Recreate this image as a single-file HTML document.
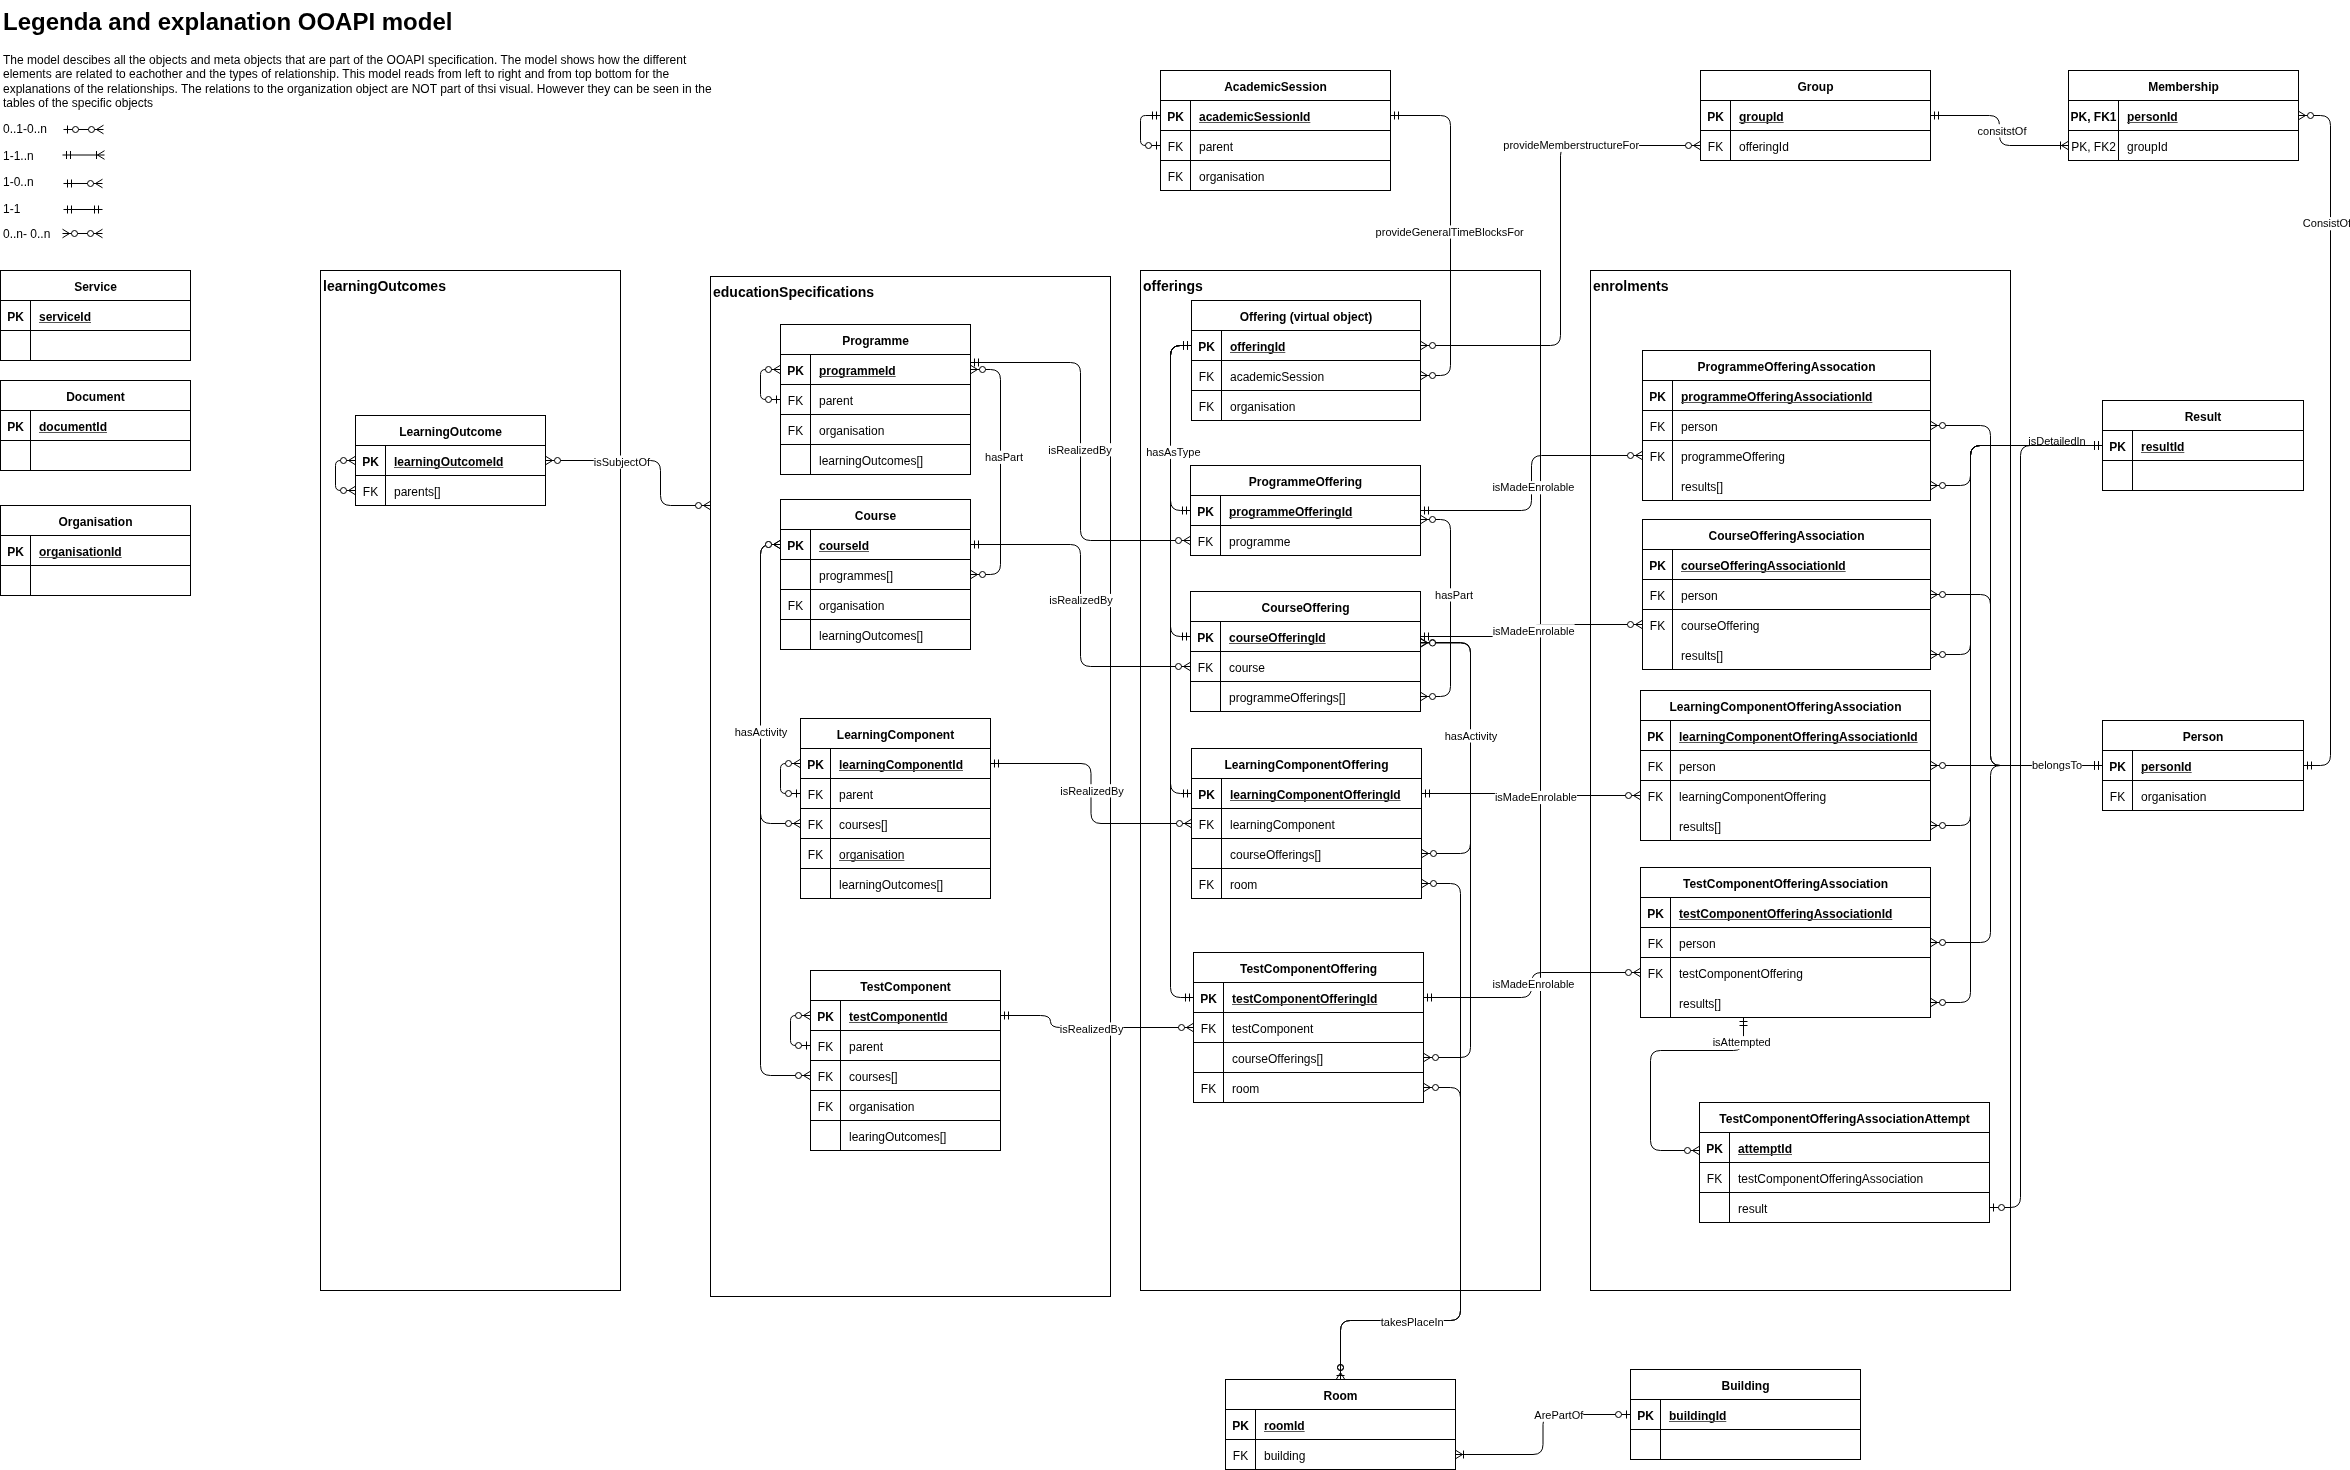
<!DOCTYPE html>
<html><head><meta charset="utf-8"><title>OOAPI model</title><style>html,body{margin:0;padding:0;background:#fff;width:2350px;height:1470px;overflow:hidden}svg{display:block;will-change:transform}text{font-family:"Liberation Sans",sans-serif}</style></head><body>
<svg width="2350" height="1470" viewBox="0 0 2350 1470" font-family="'Liberation Sans', sans-serif" fill="#000">
<rect width="2350" height="1470" fill="#fff"/>
<text x="3" y="30" font-size="24" font-weight="bold">Legenda and explanation OOAPI model</text>
<text x="3" y="64" font-size="12">The model descibes all the objects and meta objects that are part of the OOAPI specification. The model shows how the different</text>
<text x="3" y="78.4" font-size="12">elements are related to eachother and the types of relationship. This model reads from left to right and from top bottom for the</text>
<text x="3" y="92.8" font-size="12">explanations of the relationships. The relations to the organization object are NOT part of thsi visual. However they can be seen in the</text>
<text x="3" y="107.2" font-size="12">tables of the specific objects</text>
<text x="3" y="133" font-size="12">0..1-0..n</text>
<path d="M63.5 129.5 L103.5 129.5" fill="none" stroke="#000"/>
<path d="M67.50 133.50L67.50 125.50" stroke="#000" fill="none"/><circle cx="75.50" cy="129.50" r="3" fill="#fff" stroke="#000"/>
<path d="M103.50 125.20L96.50 129.50 M103.50 133.80L96.50 129.50" stroke="#000" fill="none"/><circle cx="91.50" cy="129.50" r="3" fill="#fff" stroke="#000"/>
<text x="3" y="160" font-size="12">1-1..n</text>
<path d="M62.5 155 L104.5 155" fill="none" stroke="#000"/>
<path d="M66.50 159.00L66.50 151.00 M70.50 159.00L70.50 151.00" stroke="#000" fill="none"/>
<path d="M104.50 150.70L97.50 155.00 M104.50 159.30L97.50 155.00 M96.50 151.00L96.50 159.00" stroke="#000" fill="none"/>
<text x="3" y="186" font-size="12">1-0..n</text>
<path d="M63.5 183.5 L102.5 183.5" fill="none" stroke="#000"/>
<path d="M67.50 187.50L67.50 179.50 M71.50 187.50L71.50 179.50" stroke="#000" fill="none"/>
<path d="M102.50 179.20L95.50 183.50 M102.50 187.80L95.50 183.50" stroke="#000" fill="none"/><circle cx="90.50" cy="183.50" r="3" fill="#fff" stroke="#000"/>
<text x="3" y="213" font-size="12">1-1</text>
<path d="M63.5 209.5 L102.5 209.5" fill="none" stroke="#000"/>
<path d="M67.50 213.50L67.50 205.50 M71.50 213.50L71.50 205.50" stroke="#000" fill="none"/>
<path d="M98.50 205.50L98.50 213.50 M94.50 205.50L94.50 213.50" stroke="#000" fill="none"/>
<text x="3" y="238" font-size="12">0..n- 0..n</text>
<path d="M62.5 233.5 L102.5 233.5" fill="none" stroke="#000"/>
<path d="M62.50 237.80L69.50 233.50 M62.50 229.20L69.50 233.50" stroke="#000" fill="none"/><circle cx="74.50" cy="233.50" r="3" fill="#fff" stroke="#000"/>
<path d="M102.50 229.20L95.50 233.50 M102.50 237.80L95.50 233.50" stroke="#000" fill="none"/><circle cx="90.50" cy="233.50" r="3" fill="#fff" stroke="#000"/>
<rect x="320.5" y="270.5" width="300" height="1020" fill="none" stroke="#000"/>
<text x="323" y="291" font-size="14" font-weight="bold">learningOutcomes</text>
<rect x="710.5" y="276.5" width="400" height="1020" fill="none" stroke="#000"/>
<text x="713" y="297" font-size="14" font-weight="bold">educationSpecifications</text>
<rect x="1140.5" y="270.5" width="400" height="1020" fill="none" stroke="#000"/>
<text x="1143" y="291" font-size="14" font-weight="bold">offerings</text>
<rect x="1590.5" y="270.5" width="420" height="1020" fill="none" stroke="#000"/>
<text x="1593" y="291" font-size="14" font-weight="bold">enrolments</text>
<rect x="0.5" y="270.5" width="190" height="90" fill="#fff" stroke="#000"/>
<path d="M0 300.5H190" stroke="#000"/>
<path d="M0 330.5H190" stroke="#000"/>
<path d="M30.5 300V360" stroke="#000"/>
<text x="95.5" y="291" font-size="12" font-weight="bold" text-anchor="middle">Service</text>
<text x="15.5" y="321" font-size="12" font-weight="bold" text-anchor="middle">PK</text>
<text x="39" y="321" font-size="12" font-weight="bold">serviceId</text>
<rect x="39" y="322" width="52.0156" height="1" fill="#555"/>
<rect x="0.5" y="380.5" width="190" height="90" fill="#fff" stroke="#000"/>
<path d="M0 410.5H190" stroke="#000"/>
<path d="M0 440.5H190" stroke="#000"/>
<path d="M30.5 410V470" stroke="#000"/>
<text x="95.5" y="401" font-size="12" font-weight="bold" text-anchor="middle">Document</text>
<text x="15.5" y="431" font-size="12" font-weight="bold" text-anchor="middle">PK</text>
<text x="39" y="431" font-size="12" font-weight="bold">documentId</text>
<rect x="39" y="432" width="67.9844" height="1" fill="#555"/>
<rect x="0.5" y="505.5" width="190" height="90" fill="#fff" stroke="#000"/>
<path d="M0 535.5H190" stroke="#000"/>
<path d="M0 565.5H190" stroke="#000"/>
<path d="M30.5 535V595" stroke="#000"/>
<text x="95.5" y="526" font-size="12" font-weight="bold" text-anchor="middle">Organisation</text>
<text x="15.5" y="556" font-size="12" font-weight="bold" text-anchor="middle">PK</text>
<text x="39" y="556" font-size="12" font-weight="bold">organisationId</text>
<rect x="39" y="557" width="82.6406" height="1" fill="#555"/>
<rect x="355.5" y="415.5" width="190" height="90" fill="#fff" stroke="#000"/>
<path d="M355 445.5H545" stroke="#000"/>
<path d="M355 475.5H545" stroke="#000"/>
<path d="M385.5 445V505" stroke="#000"/>
<text x="450.5" y="436" font-size="12" font-weight="bold" text-anchor="middle">LearningOutcome</text>
<text x="370.5" y="466" font-size="12" font-weight="bold" text-anchor="middle">PK</text>
<text x="394" y="466" font-size="12" font-weight="bold">learningOutcomeId</text>
<rect x="394" y="467" width="109.312" height="1" fill="#555"/>
<text x="370.5" y="496" font-size="12" text-anchor="middle">FK</text>
<text x="394" y="496" font-size="12">parents[]</text>
<rect x="780.5" y="324.5" width="190" height="150" fill="#fff" stroke="#000"/>
<path d="M780 354.5H970" stroke="#000"/>
<path d="M780 384.5H970" stroke="#000"/>
<path d="M780 414.5H970" stroke="#000"/>
<path d="M780 444.5H970" stroke="#000"/>
<path d="M810.5 354V474" stroke="#000"/>
<text x="875.5" y="345" font-size="12" font-weight="bold" text-anchor="middle">Programme</text>
<text x="795.5" y="375" font-size="12" font-weight="bold" text-anchor="middle">PK</text>
<text x="819" y="375" font-size="12" font-weight="bold">programmeId</text>
<rect x="819" y="376" width="76.6719" height="1" fill="#555"/>
<text x="795.5" y="405" font-size="12" text-anchor="middle">FK</text>
<text x="819" y="405" font-size="12">parent</text>
<text x="795.5" y="435" font-size="12" text-anchor="middle">FK</text>
<text x="819" y="435" font-size="12">organisation</text>
<text x="819" y="465" font-size="12">learningOutcomes[]</text>
<rect x="780.5" y="499.5" width="190" height="150" fill="#fff" stroke="#000"/>
<path d="M780 529.5H970" stroke="#000"/>
<path d="M780 559.5H970" stroke="#000"/>
<path d="M780 589.5H970" stroke="#000"/>
<path d="M780 619.5H970" stroke="#000"/>
<path d="M810.5 529V649" stroke="#000"/>
<text x="875.5" y="520" font-size="12" font-weight="bold" text-anchor="middle">Course</text>
<text x="795.5" y="550" font-size="12" font-weight="bold" text-anchor="middle">PK</text>
<text x="819" y="550" font-size="12" font-weight="bold">courseId</text>
<rect x="819" y="551" width="50" height="1" fill="#555"/>
<text x="819" y="580" font-size="12">programmes[]</text>
<text x="795.5" y="610" font-size="12" text-anchor="middle">FK</text>
<text x="819" y="610" font-size="12">organisation</text>
<text x="819" y="640" font-size="12">learningOutcomes[]</text>
<rect x="800.5" y="718.5" width="190" height="180" fill="#fff" stroke="#000"/>
<path d="M800 748.5H990" stroke="#000"/>
<path d="M800 778.5H990" stroke="#000"/>
<path d="M800 808.5H990" stroke="#000"/>
<path d="M800 838.5H990" stroke="#000"/>
<path d="M800 868.5H990" stroke="#000"/>
<path d="M830.5 748V898" stroke="#000"/>
<text x="895.5" y="739" font-size="12" font-weight="bold" text-anchor="middle">LearningComponent</text>
<text x="815.5" y="769" font-size="12" font-weight="bold" text-anchor="middle">PK</text>
<text x="839" y="769" font-size="12" font-weight="bold">learningComponentId</text>
<rect x="839" y="770" width="123.969" height="1" fill="#555"/>
<text x="815.5" y="799" font-size="12" text-anchor="middle">FK</text>
<text x="839" y="799" font-size="12">parent</text>
<text x="815.5" y="829" font-size="12" text-anchor="middle">FK</text>
<text x="839" y="829" font-size="12">courses[]</text>
<text x="815.5" y="859" font-size="12" text-anchor="middle">FK</text>
<text x="839" y="859" font-size="12">organisation</text>
<rect x="839" y="860" width="65.375" height="1" fill="#555"/>
<text x="839" y="889" font-size="12">learningOutcomes[]</text>
<rect x="810.5" y="970.5" width="190" height="180" fill="#fff" stroke="#000"/>
<path d="M810 1000.5H1000" stroke="#000"/>
<path d="M810 1030.5H1000" stroke="#000"/>
<path d="M810 1060.5H1000" stroke="#000"/>
<path d="M810 1090.5H1000" stroke="#000"/>
<path d="M810 1120.5H1000" stroke="#000"/>
<path d="M840.5 1000V1150" stroke="#000"/>
<text x="905.5" y="991" font-size="12" font-weight="bold" text-anchor="middle">TestComponent</text>
<text x="825.5" y="1021" font-size="12" font-weight="bold" text-anchor="middle">PK</text>
<text x="849" y="1021" font-size="12" font-weight="bold">testComponentId</text>
<rect x="849" y="1022" width="98.6562" height="1" fill="#555"/>
<text x="825.5" y="1051" font-size="12" text-anchor="middle">FK</text>
<text x="849" y="1051" font-size="12">parent</text>
<text x="825.5" y="1081" font-size="12" text-anchor="middle">FK</text>
<text x="849" y="1081" font-size="12">courses[]</text>
<text x="825.5" y="1111" font-size="12" text-anchor="middle">FK</text>
<text x="849" y="1111" font-size="12">organisation</text>
<text x="849" y="1141" font-size="12">learingOutcomes[]</text>
<rect x="1191.5" y="300.5" width="229" height="120" fill="#fff" stroke="#000"/>
<path d="M1191 330.5H1420" stroke="#000"/>
<path d="M1191 360.5H1420" stroke="#000"/>
<path d="M1191 390.5H1420" stroke="#000"/>
<path d="M1221.5 330V420" stroke="#000"/>
<text x="1306" y="321" font-size="12" font-weight="bold" text-anchor="middle">Offering (virtual object)</text>
<text x="1206.5" y="351" font-size="12" font-weight="bold" text-anchor="middle">PK</text>
<text x="1230" y="351" font-size="12" font-weight="bold">offeringId</text>
<rect x="1230" y="352" width="55.3125" height="1" fill="#555"/>
<text x="1206.5" y="381" font-size="12" text-anchor="middle">FK</text>
<text x="1230" y="381" font-size="12">academicSession</text>
<text x="1206.5" y="411" font-size="12" text-anchor="middle">FK</text>
<text x="1230" y="411" font-size="12">organisation</text>
<rect x="1190.5" y="465.5" width="230" height="90" fill="#fff" stroke="#000"/>
<path d="M1190 495.5H1420" stroke="#000"/>
<path d="M1190 525.5H1420" stroke="#000"/>
<path d="M1220.5 495V555" stroke="#000"/>
<text x="1305.5" y="486" font-size="12" font-weight="bold" text-anchor="middle">ProgrammeOffering</text>
<text x="1205.5" y="516" font-size="12" font-weight="bold" text-anchor="middle">PK</text>
<text x="1229" y="516" font-size="12" font-weight="bold">programmeOfferingId</text>
<rect x="1229" y="517" width="123.328" height="1" fill="#555"/>
<text x="1205.5" y="546" font-size="12" text-anchor="middle">FK</text>
<text x="1229" y="546" font-size="12">programme</text>
<rect x="1190.5" y="591.5" width="230" height="120" fill="#fff" stroke="#000"/>
<path d="M1190 621.5H1420" stroke="#000"/>
<path d="M1190 651.5H1420" stroke="#000"/>
<path d="M1190 681.5H1420" stroke="#000"/>
<path d="M1220.5 621V711" stroke="#000"/>
<text x="1305.5" y="612" font-size="12" font-weight="bold" text-anchor="middle">CourseOffering</text>
<text x="1205.5" y="642" font-size="12" font-weight="bold" text-anchor="middle">PK</text>
<text x="1229" y="642" font-size="12" font-weight="bold">courseOfferingId</text>
<rect x="1229" y="643" width="96.6562" height="1" fill="#555"/>
<text x="1205.5" y="672" font-size="12" text-anchor="middle">FK</text>
<text x="1229" y="672" font-size="12">course</text>
<text x="1229" y="702" font-size="12">programmeOfferings[]</text>
<rect x="1191.5" y="748.5" width="230" height="150" fill="#fff" stroke="#000"/>
<path d="M1191 778.5H1421" stroke="#000"/>
<path d="M1191 808.5H1421" stroke="#000"/>
<path d="M1191 838.5H1421" stroke="#000"/>
<path d="M1191 868.5H1421" stroke="#000"/>
<path d="M1221.5 778V898" stroke="#000"/>
<text x="1306.5" y="769" font-size="12" font-weight="bold" text-anchor="middle">LearningComponentOffering</text>
<text x="1206.5" y="799" font-size="12" font-weight="bold" text-anchor="middle">PK</text>
<text x="1230" y="799" font-size="12" font-weight="bold">learningComponentOfferingId</text>
<rect x="1230" y="800" width="170.625" height="1" fill="#555"/>
<text x="1206.5" y="829" font-size="12" text-anchor="middle">FK</text>
<text x="1230" y="829" font-size="12">learningComponent</text>
<text x="1230" y="859" font-size="12">courseOfferings[]</text>
<text x="1206.5" y="889" font-size="12" text-anchor="middle">FK</text>
<text x="1230" y="889" font-size="12">room</text>
<rect x="1193.5" y="952.5" width="230" height="150" fill="#fff" stroke="#000"/>
<path d="M1193 982.5H1423" stroke="#000"/>
<path d="M1193 1012.5H1423" stroke="#000"/>
<path d="M1193 1042.5H1423" stroke="#000"/>
<path d="M1193 1072.5H1423" stroke="#000"/>
<path d="M1223.5 982V1102" stroke="#000"/>
<text x="1308.5" y="973" font-size="12" font-weight="bold" text-anchor="middle">TestComponentOffering</text>
<text x="1208.5" y="1003" font-size="12" font-weight="bold" text-anchor="middle">PK</text>
<text x="1232" y="1003" font-size="12" font-weight="bold">testComponentOfferingId</text>
<rect x="1232" y="1004" width="145.312" height="1" fill="#555"/>
<text x="1208.5" y="1033" font-size="12" text-anchor="middle">FK</text>
<text x="1232" y="1033" font-size="12">testComponent</text>
<text x="1232" y="1063" font-size="12">courseOfferings[]</text>
<text x="1208.5" y="1093" font-size="12" text-anchor="middle">FK</text>
<text x="1232" y="1093" font-size="12">room</text>
<rect x="1642.5" y="350.5" width="288" height="150" fill="#fff" stroke="#000"/>
<path d="M1642 380.5H1930" stroke="#000"/>
<path d="M1642 410.5H1930" stroke="#000"/>
<path d="M1642 440.5H1930" stroke="#000"/>
<path d="M1672.5 380V500" stroke="#000"/>
<text x="1786.5" y="371" font-size="12" font-weight="bold" text-anchor="middle">ProgrammeOfferingAssocation</text>
<text x="1657.5" y="401" font-size="12" font-weight="bold" text-anchor="middle">PK</text>
<text x="1681" y="401" font-size="12" font-weight="bold">programmeOfferingAssociationId</text>
<rect x="1681" y="402" width="191.328" height="1" fill="#555"/>
<text x="1657.5" y="431" font-size="12" text-anchor="middle">FK</text>
<text x="1681" y="431" font-size="12">person</text>
<text x="1657.5" y="461" font-size="12" text-anchor="middle">FK</text>
<text x="1681" y="461" font-size="12">programmeOffering</text>
<text x="1681" y="491" font-size="12">results[]</text>
<rect x="1642.5" y="519.5" width="288" height="150" fill="#fff" stroke="#000"/>
<path d="M1642 549.5H1930" stroke="#000"/>
<path d="M1642 579.5H1930" stroke="#000"/>
<path d="M1642 609.5H1930" stroke="#000"/>
<path d="M1672.5 549V669" stroke="#000"/>
<text x="1786.5" y="540" font-size="12" font-weight="bold" text-anchor="middle">CourseOfferingAssociation</text>
<text x="1657.5" y="570" font-size="12" font-weight="bold" text-anchor="middle">PK</text>
<text x="1681" y="570" font-size="12" font-weight="bold">courseOfferingAssociationId</text>
<rect x="1681" y="571" width="164.656" height="1" fill="#555"/>
<text x="1657.5" y="600" font-size="12" text-anchor="middle">FK</text>
<text x="1681" y="600" font-size="12">person</text>
<text x="1657.5" y="630" font-size="12" text-anchor="middle">FK</text>
<text x="1681" y="630" font-size="12">courseOffering</text>
<text x="1681" y="660" font-size="12">results[]</text>
<rect x="1640.5" y="690.5" width="290" height="150" fill="#fff" stroke="#000"/>
<path d="M1640 720.5H1930" stroke="#000"/>
<path d="M1640 750.5H1930" stroke="#000"/>
<path d="M1640 780.5H1930" stroke="#000"/>
<path d="M1670.5 720V840" stroke="#000"/>
<text x="1785.5" y="711" font-size="12" font-weight="bold" text-anchor="middle">LearningComponentOfferingAssociation</text>
<text x="1655.5" y="741" font-size="12" font-weight="bold" text-anchor="middle">PK</text>
<text x="1679" y="741" font-size="12" font-weight="bold">learningComponentOfferingAssociationId</text>
<rect x="1679" y="742" width="238.625" height="1" fill="#555"/>
<text x="1655.5" y="771" font-size="12" text-anchor="middle">FK</text>
<text x="1679" y="771" font-size="12">person</text>
<text x="1655.5" y="801" font-size="12" text-anchor="middle">FK</text>
<text x="1679" y="801" font-size="12">learningComponentOffering</text>
<text x="1679" y="831" font-size="12">results[]</text>
<rect x="1640.5" y="867.5" width="290" height="150" fill="#fff" stroke="#000"/>
<path d="M1640 897.5H1930" stroke="#000"/>
<path d="M1640 927.5H1930" stroke="#000"/>
<path d="M1640 957.5H1930" stroke="#000"/>
<path d="M1670.5 897V1017" stroke="#000"/>
<text x="1785.5" y="888" font-size="12" font-weight="bold" text-anchor="middle">TestComponentOfferingAssociation</text>
<text x="1655.5" y="918" font-size="12" font-weight="bold" text-anchor="middle">PK</text>
<text x="1679" y="918" font-size="12" font-weight="bold">testComponentOfferingAssociationId</text>
<rect x="1679" y="919" width="213.312" height="1" fill="#555"/>
<text x="1655.5" y="948" font-size="12" text-anchor="middle">FK</text>
<text x="1679" y="948" font-size="12">person</text>
<text x="1655.5" y="978" font-size="12" text-anchor="middle">FK</text>
<text x="1679" y="978" font-size="12">testComponentOffering</text>
<text x="1679" y="1008" font-size="12">results[]</text>
<rect x="1699.5" y="1102.5" width="290" height="120" fill="#fff" stroke="#000"/>
<path d="M1699 1132.5H1989" stroke="#000"/>
<path d="M1699 1162.5H1989" stroke="#000"/>
<path d="M1699 1192.5H1989" stroke="#000"/>
<path d="M1729.5 1132V1222" stroke="#000"/>
<text x="1844.5" y="1123" font-size="12" font-weight="bold" text-anchor="middle">TestComponentOfferingAssociationAttempt</text>
<text x="1714.5" y="1153" font-size="12" font-weight="bold" text-anchor="middle">PK</text>
<text x="1738" y="1153" font-size="12" font-weight="bold">attemptId</text>
<rect x="1738" y="1154" width="54" height="1" fill="#555"/>
<text x="1714.5" y="1183" font-size="12" text-anchor="middle">FK</text>
<text x="1738" y="1183" font-size="12">testComponentOfferingAssociation</text>
<text x="1738" y="1213" font-size="12">result</text>
<rect x="1160.5" y="70.5" width="230" height="120" fill="#fff" stroke="#000"/>
<path d="M1160 100.5H1390" stroke="#000"/>
<path d="M1160 130.5H1390" stroke="#000"/>
<path d="M1160 160.5H1390" stroke="#000"/>
<path d="M1190.5 100V190" stroke="#000"/>
<text x="1275.5" y="91" font-size="12" font-weight="bold" text-anchor="middle">AcademicSession</text>
<text x="1175.5" y="121" font-size="12" font-weight="bold" text-anchor="middle">PK</text>
<text x="1199" y="121" font-size="12" font-weight="bold">academicSessionId</text>
<rect x="1199" y="122" width="111.344" height="1" fill="#555"/>
<text x="1175.5" y="151" font-size="12" text-anchor="middle">FK</text>
<text x="1199" y="151" font-size="12">parent</text>
<text x="1175.5" y="181" font-size="12" text-anchor="middle">FK</text>
<text x="1199" y="181" font-size="12">organisation</text>
<rect x="1700.5" y="70.5" width="230" height="90" fill="#fff" stroke="#000"/>
<path d="M1700 100.5H1930" stroke="#000"/>
<path d="M1700 130.5H1930" stroke="#000"/>
<path d="M1730.5 100V160" stroke="#000"/>
<text x="1815.5" y="91" font-size="12" font-weight="bold" text-anchor="middle">Group</text>
<text x="1715.5" y="121" font-size="12" font-weight="bold" text-anchor="middle">PK</text>
<text x="1739" y="121" font-size="12" font-weight="bold">groupId</text>
<rect x="1739" y="122" width="44.6406" height="1" fill="#555"/>
<text x="1715.5" y="151" font-size="12" text-anchor="middle">FK</text>
<text x="1739" y="151" font-size="12">offeringId</text>
<rect x="2068.5" y="70.5" width="230" height="90" fill="#fff" stroke="#000"/>
<path d="M2068 100.5H2298" stroke="#000"/>
<path d="M2068 130.5H2298" stroke="#000"/>
<path d="M2118.5 100V160" stroke="#000"/>
<text x="2183.5" y="91" font-size="12" font-weight="bold" text-anchor="middle">Membership</text>
<text x="2093.5" y="121" font-size="12" font-weight="bold" text-anchor="middle">PK, FK1</text>
<text x="2127" y="121" font-size="12" font-weight="bold">personId</text>
<rect x="2127" y="122" width="50.6562" height="1" fill="#555"/>
<text x="2093.5" y="151" font-size="12" text-anchor="middle">PK, FK2</text>
<text x="2127" y="151" font-size="12">groupId</text>
<rect x="2102.5" y="400.5" width="201" height="90" fill="#fff" stroke="#000"/>
<path d="M2102 430.5H2303" stroke="#000"/>
<path d="M2102 460.5H2303" stroke="#000"/>
<path d="M2132.5 430V490" stroke="#000"/>
<text x="2203" y="421" font-size="12" font-weight="bold" text-anchor="middle">Result</text>
<text x="2117.5" y="451" font-size="12" font-weight="bold" text-anchor="middle">PK</text>
<text x="2141" y="451" font-size="12" font-weight="bold">resultId</text>
<rect x="2141" y="452" width="43.3281" height="1" fill="#555"/>
<rect x="2102.5" y="720.5" width="201" height="90" fill="#fff" stroke="#000"/>
<path d="M2102 750.5H2303" stroke="#000"/>
<path d="M2102 780.5H2303" stroke="#000"/>
<path d="M2132.5 750V810" stroke="#000"/>
<text x="2203" y="741" font-size="12" font-weight="bold" text-anchor="middle">Person</text>
<text x="2117.5" y="771" font-size="12" font-weight="bold" text-anchor="middle">PK</text>
<text x="2141" y="771" font-size="12" font-weight="bold">personId</text>
<rect x="2141" y="772" width="50.6562" height="1" fill="#555"/>
<text x="2117.5" y="801" font-size="12" text-anchor="middle">FK</text>
<text x="2141" y="801" font-size="12">organisation</text>
<rect x="1225.5" y="1379.5" width="230" height="90" fill="#fff" stroke="#000"/>
<path d="M1225 1409.5H1455" stroke="#000"/>
<path d="M1225 1439.5H1455" stroke="#000"/>
<path d="M1255.5 1409V1469" stroke="#000"/>
<text x="1340.5" y="1400" font-size="12" font-weight="bold" text-anchor="middle">Room</text>
<text x="1240.5" y="1430" font-size="12" font-weight="bold" text-anchor="middle">PK</text>
<text x="1264" y="1430" font-size="12" font-weight="bold">roomId</text>
<rect x="1264" y="1431" width="40.6562" height="1" fill="#555"/>
<text x="1240.5" y="1460" font-size="12" text-anchor="middle">FK</text>
<text x="1264" y="1460" font-size="12">building</text>
<rect x="1630.5" y="1369.5" width="230" height="90" fill="#fff" stroke="#000"/>
<path d="M1630 1399.5H1860" stroke="#000"/>
<path d="M1630 1429.5H1860" stroke="#000"/>
<path d="M1660.5 1399V1459" stroke="#000"/>
<text x="1745.5" y="1390" font-size="12" font-weight="bold" text-anchor="middle">Building</text>
<text x="1645.5" y="1420" font-size="12" font-weight="bold" text-anchor="middle">PK</text>
<text x="1669" y="1420" font-size="12" font-weight="bold">buildingId</text>
<rect x="1669" y="1421" width="57.2812" height="1" fill="#555"/>
<path d="M355.5 460.5 L340.5 460.5 Q335.5 460.5 335.5 465.5 L335.5 485.5 Q335.5 490.5 340.5 490.5 L355.5 490.5" fill="none" stroke="#000"/>
<path d="M355.50 456.20L348.50 460.50 M355.50 464.80L348.50 460.50" stroke="#000" fill="none"/><circle cx="343.50" cy="460.50" r="3" fill="#fff" stroke="#000"/>
<path d="M355.50 486.20L348.50 490.50 M355.50 494.80L348.50 490.50" stroke="#000" fill="none"/><circle cx="343.50" cy="490.50" r="3" fill="#fff" stroke="#000"/>
<path d="M545.5 460.5 L650.5 460.5 Q660.5 460.5 660.5 470.5 L660.5 495.5 Q660.5 505.5 670.5 505.5 L710.5 505.5" fill="none" stroke="#000"/>
<path d="M545.50 464.80L552.50 460.50 M545.50 456.20L552.50 460.50" stroke="#000" fill="none"/><circle cx="557.50" cy="460.50" r="3" fill="#fff" stroke="#000"/>
<path d="M710.50 501.20L703.50 505.50 M710.50 509.80L703.50 505.50" stroke="#000" fill="none"/><circle cx="698.50" cy="505.50" r="3" fill="#fff" stroke="#000"/>
<path d="M780.5 369.5 L765.5 369.5 Q760.5 369.5 760.5 374.5 L760.5 394.5 Q760.5 399.5 765.5 399.5 L780.5 399.5" fill="none" stroke="#000"/>
<path d="M780.50 365.20L773.50 369.50 M780.50 373.80L773.50 369.50" stroke="#000" fill="none"/><circle cx="768.50" cy="369.50" r="3" fill="#fff" stroke="#000"/>
<path d="M776.50 395.50L776.50 403.50" stroke="#000" fill="none"/><circle cx="768.50" cy="399.50" r="3" fill="#fff" stroke="#000"/>
<path d="M970.5 362.5 L1070.5 362.5 Q1080.5 362.5 1080.5 372.5 L1080.5 530.5 Q1080.5 540.5 1090.5 540.5 L1190.5 540.5" fill="none" stroke="#000"/>
<path d="M974.50 366.50L974.50 358.50 M978.50 366.50L978.50 358.50" stroke="#000" fill="none"/>
<path d="M1190.50 536.20L1183.50 540.50 M1190.50 544.80L1183.50 540.50" stroke="#000" fill="none"/><circle cx="1178.50" cy="540.50" r="3" fill="#fff" stroke="#000"/>
<path d="M970.5 369.5 L990.5 369.5 Q1000.5 369.5 1000.5 379.5 L1000.5 564.5 Q1000.5 574.5 990.5 574.5 L970.5 574.5" fill="none" stroke="#000"/>
<path d="M970.50 373.80L977.50 369.50 M970.50 365.20L977.50 369.50" stroke="#000" fill="none"/><circle cx="982.50" cy="369.50" r="3" fill="#fff" stroke="#000"/>
<path d="M970.50 578.80L977.50 574.50 M970.50 570.20L977.50 574.50" stroke="#000" fill="none"/><circle cx="982.50" cy="574.50" r="3" fill="#fff" stroke="#000"/>
<path d="M970.5 544.5 L1070.5 544.5 Q1080.5 544.5 1080.5 554.5 L1080.5 656.5 Q1080.5 666.5 1090.5 666.5 L1190.5 666.5" fill="none" stroke="#000"/>
<path d="M974.50 548.50L974.50 540.50 M978.50 548.50L978.50 540.50" stroke="#000" fill="none"/>
<path d="M1190.50 662.20L1183.50 666.50 M1190.50 670.80L1183.50 666.50" stroke="#000" fill="none"/><circle cx="1178.50" cy="666.50" r="3" fill="#fff" stroke="#000"/>
<path d="M780.5 544.5 L770.5 544.5 Q760.5 544.5 760.5 554.5 L760.5 813.5 Q760.5 823.5 770.5 823.5 L800.5 823.5" fill="none" stroke="#000"/>
<path d="M780.50 540.20L773.50 544.50 M780.50 548.80L773.50 544.50" stroke="#000" fill="none"/><circle cx="768.50" cy="544.50" r="3" fill="#fff" stroke="#000"/>
<path d="M800.50 819.20L793.50 823.50 M800.50 827.80L793.50 823.50" stroke="#000" fill="none"/><circle cx="788.50" cy="823.50" r="3" fill="#fff" stroke="#000"/>
<path d="M780.5 544.5 L770.5 544.5 Q760.5 544.5 760.5 554.5 L760.5 1065.5 Q760.5 1075.5 770.5 1075.5 L810.5 1075.5" fill="none" stroke="#000"/>
<path d="M780.50 540.20L773.50 544.50 M780.50 548.80L773.50 544.50" stroke="#000" fill="none"/><circle cx="768.50" cy="544.50" r="3" fill="#fff" stroke="#000"/>
<path d="M810.50 1071.20L803.50 1075.50 M810.50 1079.80L803.50 1075.50" stroke="#000" fill="none"/><circle cx="798.50" cy="1075.50" r="3" fill="#fff" stroke="#000"/>
<path d="M800.5 763.5 L785.5 763.5 Q780.5 763.5 780.5 768.5 L780.5 788.5 Q780.5 793.5 785.5 793.5 L800.5 793.5" fill="none" stroke="#000"/>
<path d="M800.50 759.20L793.50 763.50 M800.50 767.80L793.50 763.50" stroke="#000" fill="none"/><circle cx="788.50" cy="763.50" r="3" fill="#fff" stroke="#000"/>
<path d="M796.50 789.50L796.50 797.50" stroke="#000" fill="none"/><circle cx="788.50" cy="793.50" r="3" fill="#fff" stroke="#000"/>
<path d="M810.5 1015.5 L795.5 1015.5 Q790.5 1015.5 790.5 1020.5 L790.5 1040.5 Q790.5 1045.5 795.5 1045.5 L810.5 1045.5" fill="none" stroke="#000"/>
<path d="M810.50 1011.20L803.50 1015.50 M810.50 1019.80L803.50 1015.50" stroke="#000" fill="none"/><circle cx="798.50" cy="1015.50" r="3" fill="#fff" stroke="#000"/>
<path d="M806.50 1041.50L806.50 1049.50" stroke="#000" fill="none"/><circle cx="798.50" cy="1045.50" r="3" fill="#fff" stroke="#000"/>
<path d="M990.5 763.5 L1081 763.5 Q1091 763.5 1091 773.5 L1091 813.5 Q1091 823.5 1101 823.5 L1191.5 823.5" fill="none" stroke="#000"/>
<path d="M994.50 767.50L994.50 759.50 M998.50 767.50L998.50 759.50" stroke="#000" fill="none"/>
<path d="M1191.50 819.20L1184.50 823.50 M1191.50 827.80L1184.50 823.50" stroke="#000" fill="none"/><circle cx="1179.50" cy="823.50" r="3" fill="#fff" stroke="#000"/>
<path d="M1000.5 1015.5 L1040.5 1015.5 Q1050.5 1015.5 1050.5 1021.5 L1050.5 1021.5 Q1050.5 1027.5 1060.5 1027.5 L1193.5 1027.5" fill="none" stroke="#000"/>
<path d="M1004.50 1019.50L1004.50 1011.50 M1008.50 1019.50L1008.50 1011.50" stroke="#000" fill="none"/>
<path d="M1193.50 1023.20L1186.50 1027.50 M1193.50 1031.80L1186.50 1027.50" stroke="#000" fill="none"/><circle cx="1181.50" cy="1027.50" r="3" fill="#fff" stroke="#000"/>
<path d="M1191.5 345.5 L1180.5 345.5 Q1170.5 345.5 1170.5 355.5 L1170.5 500.5 Q1170.5 510.5 1180.5 510.5 L1190.5 510.5" fill="none" stroke="#000"/>
<path d="M1187.50 341.50L1187.50 349.50 M1183.50 341.50L1183.50 349.50" stroke="#000" fill="none"/>
<path d="M1186.50 506.50L1186.50 514.50 M1182.50 506.50L1182.50 514.50" stroke="#000" fill="none"/>
<path d="M1191.5 345.5 L1180.5 345.5 Q1170.5 345.5 1170.5 355.5 L1170.5 626.5 Q1170.5 636.5 1180.5 636.5 L1190.5 636.5" fill="none" stroke="#000"/>
<path d="M1187.50 341.50L1187.50 349.50 M1183.50 341.50L1183.50 349.50" stroke="#000" fill="none"/>
<path d="M1186.50 632.50L1186.50 640.50 M1182.50 632.50L1182.50 640.50" stroke="#000" fill="none"/>
<path d="M1191.5 345.5 L1180.5 345.5 Q1170.5 345.5 1170.5 355.5 L1170.5 783.5 Q1170.5 793.5 1180.5 793.5 L1191.5 793.5" fill="none" stroke="#000"/>
<path d="M1187.50 341.50L1187.50 349.50 M1183.50 341.50L1183.50 349.50" stroke="#000" fill="none"/>
<path d="M1187.50 789.50L1187.50 797.50 M1183.50 789.50L1183.50 797.50" stroke="#000" fill="none"/>
<path d="M1191.5 345.5 L1180.5 345.5 Q1170.5 345.5 1170.5 355.5 L1170.5 987.5 Q1170.5 997.5 1180.5 997.5 L1193.5 997.5" fill="none" stroke="#000"/>
<path d="M1187.50 341.50L1187.50 349.50 M1183.50 341.50L1183.50 349.50" stroke="#000" fill="none"/>
<path d="M1189.50 993.50L1189.50 1001.50 M1185.50 993.50L1185.50 1001.50" stroke="#000" fill="none"/>
<path d="M1390.5 115.5 L1440.5 115.5 Q1450.5 115.5 1450.5 125.5 L1450.5 365.5 Q1450.5 375.5 1440.5 375.5 L1420.5 375.5" fill="none" stroke="#000"/>
<path d="M1394.50 119.50L1394.50 111.50 M1398.50 119.50L1398.50 111.50" stroke="#000" fill="none"/>
<path d="M1420.50 379.80L1427.50 375.50 M1420.50 371.20L1427.50 375.50" stroke="#000" fill="none"/><circle cx="1432.50" cy="375.50" r="3" fill="#fff" stroke="#000"/>
<path d="M1160.5 115.5 L1145.5 115.5 Q1140.5 115.5 1140.5 120.5 L1140.5 140.5 Q1140.5 145.5 1145.5 145.5 L1160.5 145.5" fill="none" stroke="#000"/>
<path d="M1156.50 111.50L1156.50 119.50 M1152.50 111.50L1152.50 119.50" stroke="#000" fill="none"/>
<path d="M1156.50 141.50L1156.50 149.50" stroke="#000" fill="none"/><circle cx="1148.50" cy="145.50" r="3" fill="#fff" stroke="#000"/>
<path d="M1420.5 345.5 L1550.5 345.5 Q1560.5 345.5 1560.5 335.5 L1560.5 155.5 Q1560.5 145.5 1570.5 145.5 L1700.5 145.5" fill="none" stroke="#000"/>
<path d="M1420.50 349.80L1427.50 345.50 M1420.50 341.20L1427.50 345.50" stroke="#000" fill="none"/><circle cx="1432.50" cy="345.50" r="3" fill="#fff" stroke="#000"/>
<path d="M1700.50 141.20L1693.50 145.50 M1700.50 149.80L1693.50 145.50" stroke="#000" fill="none"/><circle cx="1688.50" cy="145.50" r="3" fill="#fff" stroke="#000"/>
<path d="M1930.5 115.5 L1989.5 115.5 Q1999.5 115.5 1999.5 125.5 L1999.5 135.5 Q1999.5 145.5 2009.5 145.5 L2068.5 145.5" fill="none" stroke="#000"/>
<path d="M1934.50 119.50L1934.50 111.50 M1938.50 119.50L1938.50 111.50" stroke="#000" fill="none"/>
<path d="M2068.50 141.20L2061.50 145.50 M2068.50 149.80L2061.50 145.50 M2060.50 141.50L2060.50 149.50" stroke="#000" fill="none"/>
<path d="M2298.5 115.5 L2320.5 115.5 Q2330.5 115.5 2330.5 125.5 L2330.5 755.5 Q2330.5 765.5 2320.5 765.5 L2303.5 765.5" fill="none" stroke="#000"/>
<path d="M2298.50 119.80L2305.50 115.50 M2298.50 111.20L2305.50 115.50" stroke="#000" fill="none"/><circle cx="2310.50" cy="115.50" r="3" fill="#fff" stroke="#000"/>
<path d="M2307.50 769.50L2307.50 761.50 M2311.50 769.50L2311.50 761.50" stroke="#000" fill="none"/>
<path d="M1420.5 510.5 L1521.5 510.5 Q1531.5 510.5 1531.5 500.5 L1531.5 465.5 Q1531.5 455.5 1541.5 455.5 L1642.5 455.5" fill="none" stroke="#000"/>
<path d="M1424.50 514.50L1424.50 506.50 M1428.50 514.50L1428.50 506.50" stroke="#000" fill="none"/>
<path d="M1642.50 451.20L1635.50 455.50 M1642.50 459.80L1635.50 455.50" stroke="#000" fill="none"/><circle cx="1630.50" cy="455.50" r="3" fill="#fff" stroke="#000"/>
<path d="M1420.5 519.5 L1440.5 519.5 Q1450.5 519.5 1450.5 529.5 L1450.5 686.5 Q1450.5 696.5 1440.5 696.5 L1420.5 696.5" fill="none" stroke="#000"/>
<path d="M1420.50 523.80L1427.50 519.50 M1420.50 515.20L1427.50 519.50" stroke="#000" fill="none"/><circle cx="1432.50" cy="519.50" r="3" fill="#fff" stroke="#000"/>
<path d="M1420.50 700.80L1427.50 696.50 M1420.50 692.20L1427.50 696.50" stroke="#000" fill="none"/><circle cx="1432.50" cy="696.50" r="3" fill="#fff" stroke="#000"/>
<path d="M1420.5 636.5 L1521.5 636.5 Q1531.5 636.5 1531.5 630.5 L1531.5 630.5 Q1531.5 624.5 1541.5 624.5 L1642.5 624.5" fill="none" stroke="#000"/>
<path d="M1424.50 640.50L1424.50 632.50 M1428.50 640.50L1428.50 632.50" stroke="#000" fill="none"/>
<path d="M1642.50 620.20L1635.50 624.50 M1642.50 628.80L1635.50 624.50" stroke="#000" fill="none"/><circle cx="1630.50" cy="624.50" r="3" fill="#fff" stroke="#000"/>
<path d="M1420.5 642.5 L1460.5 642.5 Q1470.5 642.5 1470.5 652.5 L1470.5 843.5 Q1470.5 853.5 1460.5 853.5 L1421.5 853.5" fill="none" stroke="#000"/>
<path d="M1420.50 646.80L1427.50 642.50 M1420.50 638.20L1427.50 642.50" stroke="#000" fill="none"/><circle cx="1432.50" cy="642.50" r="3" fill="#fff" stroke="#000"/>
<path d="M1421.50 857.80L1428.50 853.50 M1421.50 849.20L1428.50 853.50" stroke="#000" fill="none"/><circle cx="1433.50" cy="853.50" r="3" fill="#fff" stroke="#000"/>
<path d="M1420.5 643 L1460.5 643 Q1470.5 643 1470.5 653 L1470.5 1047.5 Q1470.5 1057.5 1460.5 1057.5 L1423.5 1057.5" fill="none" stroke="#000"/>
<path d="M1420.50 647.30L1427.50 643.00 M1420.50 638.70L1427.50 643.00" stroke="#000" fill="none"/><circle cx="1432.50" cy="643.00" r="3" fill="#fff" stroke="#000"/>
<path d="M1423.50 1061.80L1430.50 1057.50 M1423.50 1053.20L1430.50 1057.50" stroke="#000" fill="none"/><circle cx="1435.50" cy="1057.50" r="3" fill="#fff" stroke="#000"/>
<path d="M1421.5 793.5 L1521.5 793.5 Q1531.5 793.5 1531.5 794.5 L1531.5 794.5 Q1531.5 795.5 1541.5 795.5 L1640.5 795.5" fill="none" stroke="#000"/>
<path d="M1425.50 797.50L1425.50 789.50 M1429.50 797.50L1429.50 789.50" stroke="#000" fill="none"/>
<path d="M1640.50 791.20L1633.50 795.50 M1640.50 799.80L1633.50 795.50" stroke="#000" fill="none"/><circle cx="1628.50" cy="795.50" r="3" fill="#fff" stroke="#000"/>
<path d="M1423.5 997.5 L1521.5 997.5 Q1531.5 997.5 1531.5 987.5 L1531.5 982.5 Q1531.5 972.5 1541.5 972.5 L1640.5 972.5" fill="none" stroke="#000"/>
<path d="M1427.50 1001.50L1427.50 993.50 M1431.50 1001.50L1431.50 993.50" stroke="#000" fill="none"/>
<path d="M1640.50 968.20L1633.50 972.50 M1640.50 976.80L1633.50 972.50" stroke="#000" fill="none"/><circle cx="1628.50" cy="972.50" r="3" fill="#fff" stroke="#000"/>
<path d="M1421.5 883.5 L1450.5 883.5 Q1460.5 883.5 1460.5 893.5 L1460.5 1310.5 Q1460.5 1320.5 1450.5 1320.5 L1350.5 1320.5 Q1340.5 1320.5 1340.5 1330.5 L1340.5 1379.5" fill="none" stroke="#000"/>
<path d="M1421.50 887.80L1428.50 883.50 M1421.50 879.20L1428.50 883.50" stroke="#000" fill="none"/><circle cx="1433.50" cy="883.50" r="3" fill="#fff" stroke="#000"/>
<path d="M1344.80 1379.50L1340.50 1372.50 M1336.20 1379.50L1340.50 1372.50" stroke="#000" fill="none"/><circle cx="1340.50" cy="1367.50" r="3" fill="#fff" stroke="#000"/>
<path d="M1423.5 1087.5 L1450.5 1087.5 Q1460.5 1087.5 1460.5 1097.5 L1460.5 1310.5 Q1460.5 1320.5 1450.5 1320.5 L1350.5 1320.5 Q1340.5 1320.5 1340.5 1330.5 L1340.5 1379.5" fill="none" stroke="#000"/>
<path d="M1423.50 1091.80L1430.50 1087.50 M1423.50 1083.20L1430.50 1087.50" stroke="#000" fill="none"/><circle cx="1435.50" cy="1087.50" r="3" fill="#fff" stroke="#000"/>
<path d="M1344.50 1375.50L1336.50 1375.50 M1340.50 1367.50m-3 0a3 3 0 1 0 6 0a3 3 0 1 0 -6 0" stroke="#000" fill="none"/>
<path d="M1455.5 1454.5 L1533 1454.5 Q1543 1454.5 1543 1444.5 L1543 1424.5 Q1543 1414.5 1553 1414.5 L1630.5 1414.5" fill="none" stroke="#000"/>
<path d="M1455.50 1458.80L1462.50 1454.50 M1455.50 1450.20L1462.50 1454.50 M1463.50 1458.50L1463.50 1450.50" stroke="#000" fill="none"/>
<path d="M1626.50 1410.50L1626.50 1418.50" stroke="#000" fill="none"/><circle cx="1618.50" cy="1414.50" r="3" fill="#fff" stroke="#000"/>
<path d="M1930.5 425.5 L1980.5 425.5 Q1990.5 425.5 1990.5 435.5 L1990.5 755.5 Q1990.5 765.5 2000.5 765.5 L2102.5 765.5" fill="none" stroke="#000"/>
<path d="M1930.50 429.80L1937.50 425.50 M1930.50 421.20L1937.50 425.50" stroke="#000" fill="none"/><circle cx="1942.50" cy="425.50" r="3" fill="#fff" stroke="#000"/>
<path d="M2098.50 761.50L2098.50 769.50 M2094.50 761.50L2094.50 769.50" stroke="#000" fill="none"/>
<path d="M1930.5 594.5 L1980.5 594.5 Q1990.5 594.5 1990.5 604.5 L1990.5 755.5 Q1990.5 765.5 2000.5 765.5 L2102.5 765.5" fill="none" stroke="#000"/>
<path d="M1930.50 598.80L1937.50 594.50 M1930.50 590.20L1937.50 594.50" stroke="#000" fill="none"/><circle cx="1942.50" cy="594.50" r="3" fill="#fff" stroke="#000"/>
<path d="M2098.50 761.50L2098.50 769.50 M2094.50 761.50L2094.50 769.50" stroke="#000" fill="none"/>
<path d="M1930.5 765.5 L2102.5 765.5" fill="none" stroke="#000"/>
<path d="M1930.50 769.80L1937.50 765.50 M1930.50 761.20L1937.50 765.50" stroke="#000" fill="none"/><circle cx="1942.50" cy="765.50" r="3" fill="#fff" stroke="#000"/>
<path d="M2098.50 761.50L2098.50 769.50 M2094.50 761.50L2094.50 769.50" stroke="#000" fill="none"/>
<path d="M1930.5 942.5 L1980.5 942.5 Q1990.5 942.5 1990.5 932.5 L1990.5 775.5 Q1990.5 765.5 2000.5 765.5 L2102.5 765.5" fill="none" stroke="#000"/>
<path d="M1930.50 946.80L1937.50 942.50 M1930.50 938.20L1937.50 942.50" stroke="#000" fill="none"/><circle cx="1942.50" cy="942.50" r="3" fill="#fff" stroke="#000"/>
<path d="M2098.50 761.50L2098.50 769.50 M2094.50 761.50L2094.50 769.50" stroke="#000" fill="none"/>
<path d="M1930.5 485.5 L1960.5 485.5 Q1970.5 485.5 1970.5 475.5 L1970.5 455.5 Q1970.5 445.5 1980.5 445.5 L2102.5 445.5" fill="none" stroke="#000"/>
<path d="M1930.50 489.80L1937.50 485.50 M1930.50 481.20L1937.50 485.50" stroke="#000" fill="none"/><circle cx="1942.50" cy="485.50" r="3" fill="#fff" stroke="#000"/>
<path d="M2098.50 441.50L2098.50 449.50 M2094.50 441.50L2094.50 449.50" stroke="#000" fill="none"/>
<path d="M1930.5 654.5 L1960.5 654.5 Q1970.5 654.5 1970.5 644.5 L1970.5 455.5 Q1970.5 445.5 1980.5 445.5 L2102.5 445.5" fill="none" stroke="#000"/>
<path d="M1930.50 658.80L1937.50 654.50 M1930.50 650.20L1937.50 654.50" stroke="#000" fill="none"/><circle cx="1942.50" cy="654.50" r="3" fill="#fff" stroke="#000"/>
<path d="M2098.50 441.50L2098.50 449.50 M2094.50 441.50L2094.50 449.50" stroke="#000" fill="none"/>
<path d="M1930.5 825.5 L1960.5 825.5 Q1970.5 825.5 1970.5 815.5 L1970.5 455.5 Q1970.5 445.5 1980.5 445.5 L2102.5 445.5" fill="none" stroke="#000"/>
<path d="M1930.50 829.80L1937.50 825.50 M1930.50 821.20L1937.50 825.50" stroke="#000" fill="none"/><circle cx="1942.50" cy="825.50" r="3" fill="#fff" stroke="#000"/>
<path d="M2098.50 441.50L2098.50 449.50 M2094.50 441.50L2094.50 449.50" stroke="#000" fill="none"/>
<path d="M1930.5 1002.5 L1960.5 1002.5 Q1970.5 1002.5 1970.5 992.5 L1970.5 455.5 Q1970.5 445.5 1980.5 445.5 L2102.5 445.5" fill="none" stroke="#000"/>
<path d="M1930.50 1006.80L1937.50 1002.50 M1930.50 998.20L1937.50 1002.50" stroke="#000" fill="none"/><circle cx="1942.50" cy="1002.50" r="3" fill="#fff" stroke="#000"/>
<path d="M2098.50 441.50L2098.50 449.50 M2094.50 441.50L2094.50 449.50" stroke="#000" fill="none"/>
<path d="M1989.5 1207.5 L2010.5 1207.5 Q2020.5 1207.5 2020.5 1197.5 L2020.5 455.5 Q2020.5 445.5 2030.5 445.5 L2102.5 445.5" fill="none" stroke="#000"/>
<path d="M1993.50 1211.50L1993.50 1203.50" stroke="#000" fill="none"/><circle cx="2001.50" cy="1207.50" r="3" fill="#fff" stroke="#000"/>
<path d="M2098.50 441.50L2098.50 449.50 M2094.50 441.50L2094.50 449.50" stroke="#000" fill="none"/>
<path d="M1743.5 1017.5 L1743.5 1040.5 Q1743.5 1050.5 1733.5 1050.5 L1660.5 1050.5 Q1650.5 1050.5 1650.5 1060.5 L1650.5 1140.5 Q1650.5 1150.5 1660.5 1150.5 L1699.5 1150.5" fill="none" stroke="#000"/>
<path d="M1739.50 1021.50L1747.50 1021.50 M1739.50 1025.50L1747.50 1025.50" stroke="#000" fill="none"/>
<path d="M1699.50 1146.20L1692.50 1150.50 M1699.50 1154.80L1692.50 1150.50" stroke="#000" fill="none"/><circle cx="1687.50" cy="1150.50" r="3" fill="#fff" stroke="#000"/>
<rect x="593.759" y="455.5" width="56.2812" height="13.2" fill="#fff"/>
<text x="621.9" y="465.8" font-size="11" text-anchor="middle">isSubjectOf</text>
<rect x="985.031" y="450.7" width="37.9375" height="13.2" fill="#fff"/>
<text x="1004" y="461" font-size="11" text-anchor="middle">hasPart</text>
<rect x="1048.2" y="443.2" width="63.5938" height="13.2" fill="#fff"/>
<text x="1080" y="453.5" font-size="11" text-anchor="middle">isRealizedBy</text>
<rect x="1049.2" y="593.9" width="63.5938" height="13.2" fill="#fff"/>
<text x="1081" y="604.2" font-size="11" text-anchor="middle">isRealizedBy</text>
<rect x="734.703" y="725.5" width="52.5938" height="13.2" fill="#fff"/>
<text x="761" y="735.8" font-size="11" text-anchor="middle">hasActivity</text>
<rect x="1060.2" y="784.2" width="63.5938" height="13.2" fill="#fff"/>
<text x="1092" y="794.5" font-size="11" text-anchor="middle">isRealizedBy</text>
<rect x="1059.8" y="1022.4" width="63.5938" height="13.2" fill="#fff"/>
<text x="1091.6" y="1032.7" font-size="11" text-anchor="middle">isRealizedBy</text>
<rect x="1146.17" y="445.7" width="54.4531" height="13.2" fill="#fff"/>
<text x="1173.4" y="456" font-size="11" text-anchor="middle">hasAsType</text>
<rect x="1375.61" y="225.4" width="148.188" height="13.2" fill="#fff"/>
<text x="1449.7" y="235.7" font-size="11" text-anchor="middle">provideGeneralTimeBlocksFor</text>
<rect x="1503.33" y="138.7" width="135.75" height="13.2" fill="#fff"/>
<text x="1571.2" y="149" font-size="11" text-anchor="middle">provideMemberstructureFor</text>
<rect x="1977.53" y="124.2" width="48.9375" height="13.2" fill="#fff"/>
<text x="2002" y="134.5" font-size="11" text-anchor="middle">consitstOf</text>
<rect x="2302.84" y="217.1" width="48.3125" height="13.2" fill="#fff"/>
<text x="2327" y="227.4" font-size="11" text-anchor="middle">ConsistOf</text>
<rect x="1492.42" y="481.1" width="81.9688" height="13.2" fill="#fff"/>
<text x="1533.4" y="491.4" font-size="11" text-anchor="middle">isMadeEnrolable</text>
<rect x="1435.03" y="588.3" width="37.9375" height="13.2" fill="#fff"/>
<text x="1454" y="598.6" font-size="11" text-anchor="middle">hasPart</text>
<rect x="1492.62" y="624.2" width="81.9688" height="13.2" fill="#fff"/>
<text x="1533.6" y="634.5" font-size="11" text-anchor="middle">isMadeEnrolable</text>
<rect x="1444.7" y="729.3" width="52.5938" height="13.2" fill="#fff"/>
<text x="1471" y="739.6" font-size="11" text-anchor="middle">hasActivity</text>
<rect x="1494.92" y="790.9" width="81.9688" height="13.2" fill="#fff"/>
<text x="1535.9" y="801.2" font-size="11" text-anchor="middle">isMadeEnrolable</text>
<rect x="1492.52" y="977.8" width="81.9688" height="13.2" fill="#fff"/>
<text x="1533.5" y="988.1" font-size="11" text-anchor="middle">isMadeEnrolable</text>
<rect x="1712.64" y="1036.1" width="58.125" height="13.2" fill="#fff"/>
<text x="1741.7" y="1046.4" font-size="11" text-anchor="middle">isAttempted</text>
<text x="2057" y="445" font-size="11" text-anchor="middle">isDetailedIn</text>
<rect x="2031.91" y="758.3" width="50.1875" height="13.2" fill="#fff"/>
<text x="2057" y="768.6" font-size="11" text-anchor="middle">belongsTo</text>
<rect x="1380.68" y="1316" width="63.0312" height="13.2" fill="#fff"/>
<text x="1412.2" y="1326.3" font-size="11" text-anchor="middle">takesPlaceIn</text>
<rect x="1534.33" y="1408.6" width="48.9375" height="13.2" fill="#fff"/>
<text x="1558.8" y="1418.9" font-size="11" text-anchor="middle">ArePartOf</text>
</svg>
</body></html>
